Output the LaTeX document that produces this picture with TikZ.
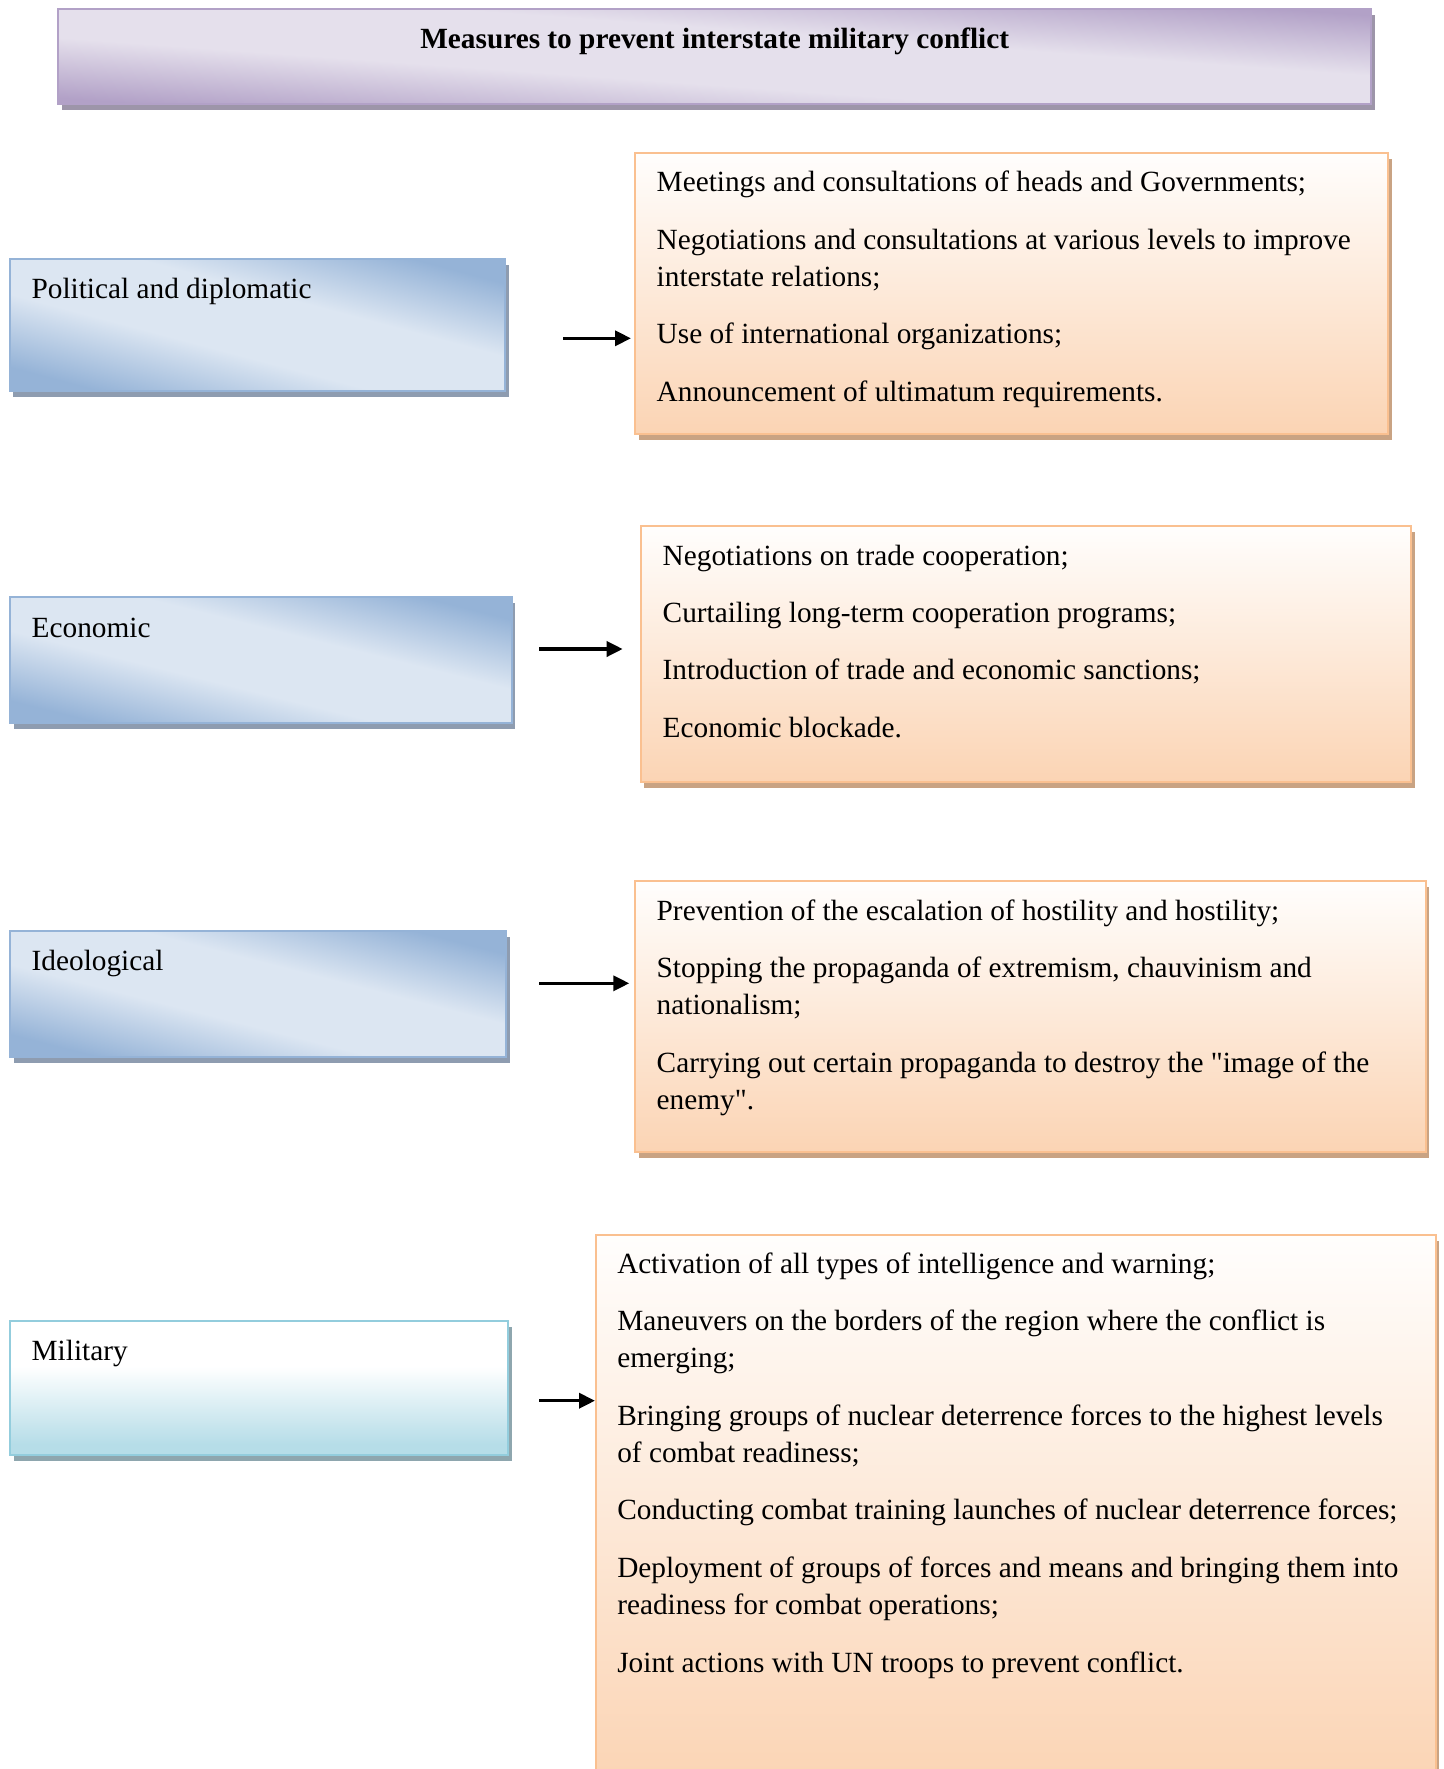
\documentclass[tikz,border=0pt]{standalone}
\usepackage{fontspec}
\setmainfont{Liberation Serif}
\newfontfamily\qfont{Liberation Serif}
\usetikzlibrary{arrows.meta,shadows}

\definecolor{bdark}{HTML}{95B3D7}
\definecolor{blight}{HTML}{DCE6F2}
\definecolor{bborder}{HTML}{95B3D7}
\definecolor{bshadow}{HTML}{8E9CB0}
\definecolor{pdark}{HTML}{B2A1C7}
\definecolor{plight}{HTML}{E5E0EC}
\definecolor{pborder}{HTML}{B2A1C7}
\definecolor{pshadow}{HTML}{9D95A9}
\definecolor{odark}{HTML}{FBD4B4}
\definecolor{olight}{HTML}{FFFEFD}
\definecolor{oborder}{HTML}{FAC090}
\definecolor{oshadow}{HTML}{C9A383}
\definecolor{cdark}{HTML}{B6DDE8}
\definecolor{cborder}{HTML}{93CDDD}
\definecolor{cshadow}{HTML}{8EA6AE}

\pgfdeclareverticalshading{bluediag}{100bp}{color(0bp)=(bdark); color(25bp)=(bdark); color(42bp)=(blight); color(58bp)=(blight); color(75bp)=(bdark); color(100bp)=(bdark)}
\pgfdeclareverticalshading{purplediag}{100bp}{color(0bp)=(pdark); color(25bp)=(pdark); color(42bp)=(plight); color(58bp)=(plight); color(75bp)=(pdark); color(100bp)=(pdark)}
\pgfdeclareverticalshading{cyanfade}{100bp}{color(0bp)=(cdark); color(25bp)=(cdark); color(29bp)=(cdark); color(58bp)=(white); color(75bp)=(white); color(100bp)=(white)}

\tikzset{
  boxbase/.style={rectangle, inner sep=0pt, outer sep=0pt, anchor=north west, line width=2pt},
  titlebox/.style={boxbase, shading=purplediag, draw=pborder,
    drop shadow={shadow xshift=3.5pt, shadow yshift=-6pt, fill=pshadow, opacity=1}},
  bluebox/.style={boxbase, shading=bluediag, draw=bborder,
    drop shadow={shadow xshift=3.5pt, shadow yshift=-6pt, fill=bshadow, opacity=1}},
  cyanbox/.style={boxbase, shading=cyanfade, draw=cborder,
    drop shadow={shadow xshift=3.5pt, shadow yshift=-6pt, fill=cshadow, opacity=1}},
  orangebox/.style={boxbase, top color=olight, bottom color=odark, draw=oborder,
    drop shadow={shadow xshift=3.5pt, shadow yshift=-6pt, fill=oshadow, opacity=1}},
  labeltxt/.style={anchor=base west, inner sep=0pt, outer sep=0pt, font=\fontsize{29.3pt}{37.15pt}\selectfont},
  listtxt/.style={anchor=north west, inner sep=0pt, outer sep=0pt, align=left, font=\fontsize{29.3pt}{37.15pt}\selectfont},
  titletxt/.style={anchor=base, inner sep=0pt, outer sep=0pt, font=\fontsize{29.3pt}{37.15pt}\selectfont\bfseries},
  arr/.style={line width=3.5pt, -{Triangle[length=16pt,width=15pt]}}
}
\newcommand{\firstline}{\rule{0pt}{24pt}}
\newcommand{\sq}{{\qfont"}}

\begin{document}
\begin{tikzpicture}[x=1pt,y=-1pt]
\useasboundingbox (0,0) rectangle (1443,1769);

% title
\node[titlebox, shading angle=-4.14, minimum width=1312.7pt, minimum height=95pt] (title) at (58.3,9) {};
\node[titletxt] (titlet) at (714.7,48.3) {Measures to prevent interstate military conflict};

% left category boxes
\node[bluebox, shading angle=-14.9, minimum width=495.5pt, minimum height=131.7pt] (pol) at (9.5,259.3) {};
\node[labeltxt] (polt) at (31.6,298.3) {Political and diplomatic};

\node[bluebox, shading angle=-14.0, minimum width=501.7pt, minimum height=125.4pt] (eco) at (10,597.3) {};
\node[labeltxt] (ecot) at (31.7,637.3) {Economic};

\node[bluebox, shading angle=-14.3, minimum width=496pt, minimum height=126.3pt] (ide) at (10,931) {};
\node[labeltxt] (idet) at (31.7,970.7) {Ideological};

\node[cyanbox, minimum width=498pt, minimum height=134.3pt] (mil) at (10,1320.7) {};
\node[labeltxt] (milt) at (31.7,1360) {Military};

% right measure boxes
\node[orangebox, minimum width=753pt, minimum height=280.8pt] (r1) at (635,152.7) {};
\node[listtxt] (r1t) at (656.7,167.7) {\firstline Meetings and consultations of heads and Governments;\\[20.3pt]
Negotiations and consultations at various levels to improve\\
interstate relations;\\[20.3pt]
Use of international organizations;\\[20.3pt]
Announcement of ultimatum requirements.};

\node[orangebox, minimum width=770.6pt, minimum height=255.7pt] (r2) at (640.7,526) {};
\node[listtxt] (r2t) at (662.7,541) {\firstline Negotiations on trade cooperation;\\[20.3pt]
Curtailing long-term cooperation programs;\\[20.3pt]
Introduction of trade and economic sanctions;\\[20.3pt]
Economic blockade.};

\node[orangebox, minimum width=790.7pt, minimum height=270.7pt] (r3) at (635,881) {};
\node[listtxt] (r3t) at (656.7,896) {\firstline Prevention of the escalation of hostility and hostility;\\[20.3pt]
Stopping the propaganda of extremism, chauvinism and\\
nationalism;\\[20.3pt]
Carrying out certain propaganda to destroy the \sq image of the\\
enemy\sq.};

\begin{scope}
\clip (0,0) rectangle (1443,1769);
\node[orangebox, minimum width=839.7pt, minimum height=550pt] (r4) at (596,1235) {};
\end{scope}
\node[listtxt] (r4t) at (617.3,1249.3) {\firstline Activation of all types of intelligence and warning;\\[20.3pt]
Maneuvers on the borders of the region where the conflict is\\
emerging;\\[20.3pt]
Bringing groups of nuclear deterrence forces to the highest levels\\
of combat readiness;\\[20.3pt]
Conducting combat training launches of nuclear deterrence forces;\\[20.3pt]
Deployment of groups of forces and means and bringing them into\\
readiness for combat operations;\\[20.3pt]
Joint actions with UN troops to prevent conflict.};

% arrows
\coordinate (a1s) at (563,338.3);   \coordinate (a1e) at (631,338.3);
\coordinate (a2s) at (539.3,649);   \coordinate (a2e) at (622.7,649);
\coordinate (a3s) at (539.3,983.3); \coordinate (a3e) at (629.3,983.3);
\coordinate (a4s) at (539.3,1400.7);\coordinate (a4e) at (595,1400.7);
\draw[arr] (a1s) -- (a1e);
\draw[arr] (a2s) -- (a2e);
\draw[arr] (a3s) -- (a3e);
\draw[arr] (a4s) -- (a4e);
\end{tikzpicture}
\end{document}
